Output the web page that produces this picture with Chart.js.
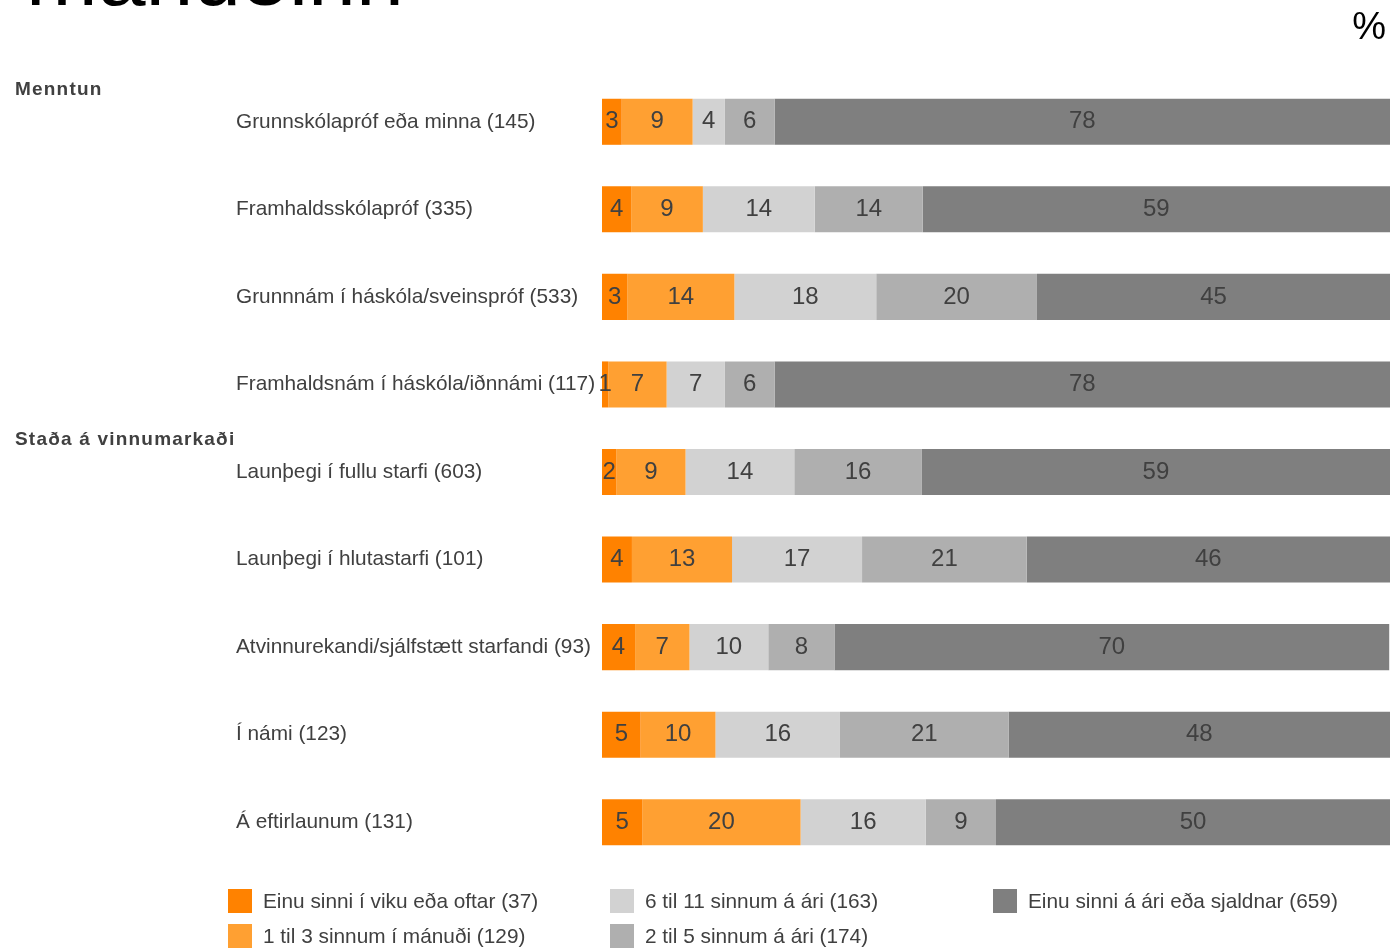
<!DOCTYPE html>
<html>
<head>
<meta charset="utf-8">
<script src="https://cdn.jsdelivr.net/npm/chart.js@4.4.1/dist/chart.umd.min.js"></script>
<style>
  html, body { margin: 0; padding: 0; background: #fff; overflow: hidden; }
  body { width: 1391px; height: 948px; position: relative; font-family: "Liberation Sans", Arial, sans-serif; color: #404040; }
  #wrap { position: absolute; left: 0; top: 0; width: 1391px; height: 948px; }
  .title { position: absolute; left: 26px; top: -68px; font-size: 86px; color: #000; line-height: 1; white-space: nowrap; }
  .pct { position: absolute; right: 5px; top: 7px; font-size: 38px; color: #000; line-height: 1; }
  .group { position: absolute; left: 15px; font-size: 19px; font-weight: bold; letter-spacing: 1.2px; color: #404040; }
  .legend-item { position: absolute; font-size: 20.8px; color: #404040; white-space: nowrap; line-height: 24px; }
  .legend-item span.box { position: absolute; left: 0; top: 0; width: 24px; height: 24px; }
  .legend-item span.txt { position: absolute; left: 35px; top: 0; }
</style>
</head>
<body>
<div id="wrap"><canvas id="chart" width="1391" height="948"></canvas></div>
<div class="title">mánuðinn</div>
<div class="pct">%</div>
<div class="group" style="top:78px">Menntun</div>
<div class="group" style="top:428px">Staða á vinnumarkaði</div>
<div id="legend"></div>
<script>
// flokkar (y-ás)
const categories = [
  'Grunnskólapróf eða minna (145)',
  'Framhaldsskólapróf (335)',
  'Grunnnám í háskóla/sveinspróf (533)',
  'Framhaldsnám í háskóla/iðnnámi (117)',
  'Launþegi í fullu starfi (603)',
  'Launþegi í hlutastarfi (101)',
  'Atvinnurekandi/sjálfstætt starfandi (93)',
  'Í námi (123)',
  'Á eftirlaunum (131)'
];

const seriesNames = [
  'Einu sinni í viku eða oftar (37)',
  '1 til 3 sinnum í mánuði (129)',
  '6 til 11 sinnum á ári (163)',
  '2 til 5 sinnum á ári (174)',
  'Einu sinni á ári eða sjaldnar (659)'
];

const seriesColors = ['#FF8200', '#FFA032', '#D2D2D2', '#AFAFAF', '#7F7F7F'];

// hlutfall (%) fyrir hverja röð, lesið af myndinni
const weekly   = [2.5, 3.7, 3.2, 0.8, 1.8, 3.8, 4.2, 4.9, 5.1];
const monthly  = [9.0, 9.1, 13.6, 7.4, 8.8, 12.7, 6.9, 9.5, 20.1];
const sixToEleven = [4.1, 14.2, 18.0, 7.4, 13.8, 16.5, 10.0, 15.8, 15.9];
const twoToFive   = [6.3, 13.7, 20.4, 6.3, 16.2, 20.9, 8.4, 21.4, 8.9];
const yearlyOrLess = [78.1, 59.3, 44.8, 78.1, 59.4, 46.1, 70.4, 48.4, 50.0];

const seriesData = [weekly, monthly, sixToEleven, twoToFive, yearlyOrLess];

const FONT = '"Liberation Sans", Arial, sans-serif';

// gildin inni í súlunum
const valueLabels = {
  id: 'valueLabels',
  afterDatasetsDraw(chart) {
    const ctx = chart.ctx;
    ctx.save();
    ctx.font = '24px ' + FONT;
    ctx.fillStyle = '#404040';
    ctx.textAlign = 'center';
    ctx.textBaseline = 'middle';
    chart.data.datasets.forEach((ds, i) => {
      const meta = chart.getDatasetMeta(i);
      meta.data.forEach((bar, j) => {
        const v = ds.data[j];
        const cx = (bar.x + bar.base) / 2;
        ctx.fillText(String(Math.round(v)), cx, bar.y);
      });
    });
    ctx.restore();
  }
};

new Chart(document.getElementById('chart'), {
  type: 'bar',
  data: {
    labels: categories,
    datasets: seriesData.map((d, i) => ({
      label: seriesNames[i],
      data: d,
      backgroundColor: seriesColors[i],
      borderWidth: 0,
      barPercentage: 0.526,
      categoryPercentage: 1.0,
    })),
  },
  options: {
    indexAxis: 'y',
    responsive: false,
    animation: false,
    layout: { padding: { left: 236, right: 1, top: 78, bottom: 82 } },
    plugins: {
      legend: { display: false },
      tooltip: { enabled: false },
    },
    scales: {
      x: { stacked: true, min: 0, max: 100, display: false },
      y: {
        stacked: true,
        grid: { display: false },
        border: { display: false },
        afterFit(scale) { scale.width = 366; },
        ticks: {
          crossAlign: 'far',
          padding: 0,
          color: '#404040',
          font: { family: FONT, size: 20.8 },
        },
      },
    },
  },
  plugins: [valueLabels],
});

// skýringar neðst (3 dálkar)
const legendPos = [
  [228, 889], [228, 924], [610, 889], [610, 924], [993, 889]
];
const legend = document.getElementById('legend');
seriesNames.forEach((name, i) => {
  const el = document.createElement('div');
  el.className = 'legend-item';
  el.style.left = legendPos[i][0] + 'px';
  el.style.top = legendPos[i][1] + 'px';
  el.innerHTML = '<span class="box" style="background:' + seriesColors[i] + '"></span><span class="txt">' + name + '</span>';
  legend.appendChild(el);
});
</script>
</body>
</html>
